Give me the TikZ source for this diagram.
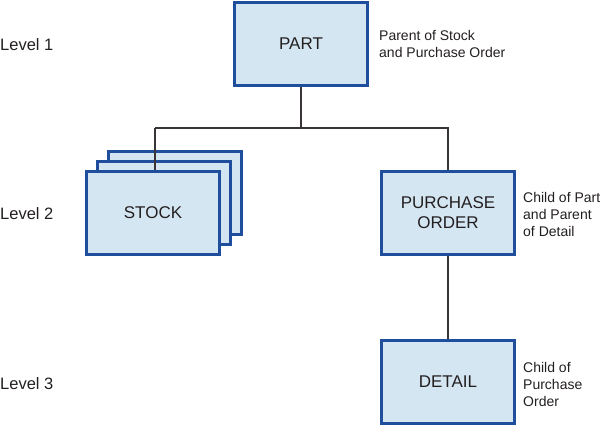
\documentclass[tikz,border=0pt]{standalone}
\usepackage{fontspec}
\setmainfont{Liberation Sans}
\definecolor{boxblue}{HTML}{1F4E9C}
\definecolor{boxfill}{HTML}{D5E6F3}
\definecolor{ink}{HTML}{231F20}
\pgfdeclarelayer{back}
\pgfdeclarelayer{lines}
\pgfsetlayers{back,lines,main}
\tikzset{
  entity/.style={draw=boxblue, line width=3pt, fill=boxfill, minimum width=133pt, minimum height=83pt,
    inner sep=0pt, align=center, text=ink, font=\fontsize{17}{20}\selectfont},
  note/.style={anchor=west, align=left, inner sep=0pt, text=ink, font=\fontsize{14}{17}\selectfont},
  level/.style={anchor=west, inner sep=0pt, text=ink, font=\fontsize{16.5}{19}\selectfont},
  link/.style={draw=ink!90, line width=1.5pt}
}
\begin{document}
\begin{tikzpicture}[x=1pt, y=-1pt]
\useasboundingbox (0,0) rectangle (600,426);
\begin{pgfonlayer}{back}
\node[entity] (stockc) at (175,193) {};
\node[entity] (stockb) at (164,203) {};
\end{pgfonlayer}
\node[entity] (part) at (301,44) {PART};
\node[entity] (stock) at (153,213) {STOCK};
\node[entity] (po) at (448,213) {PURCHASE\\ORDER};
\node[entity] (detail) at (448,382) {DETAIL};
\coordinate (j) at (301,128);
\coordinate (sj) at (155,128);
\begin{pgfonlayer}{lines}
\draw[link] (part.south) -- (j);
\draw[link] (sj) -- (sj |- stock.north);
\draw[link] (sj) -- (j) -| (po.north);
\draw[link] (po.south) -- (detail.north);
\end{pgfonlayer}
\node[level] (l1) at (0,45) {Level 1};
\node[level] (l2) at (0,214) {Level 2};
\node[level] (l3) at (0,384) {Level 3};
\node[note] (n1) at (379,43.5) {Parent of Stock\\and Purchase Order};
\node[note] (n2) at (523,214) {Child of Part\\and Parent\\of Detail};
\node[note] (n3) at (523,384) {Child of\\Purchase\\Order};
\end{tikzpicture}
\end{document}
